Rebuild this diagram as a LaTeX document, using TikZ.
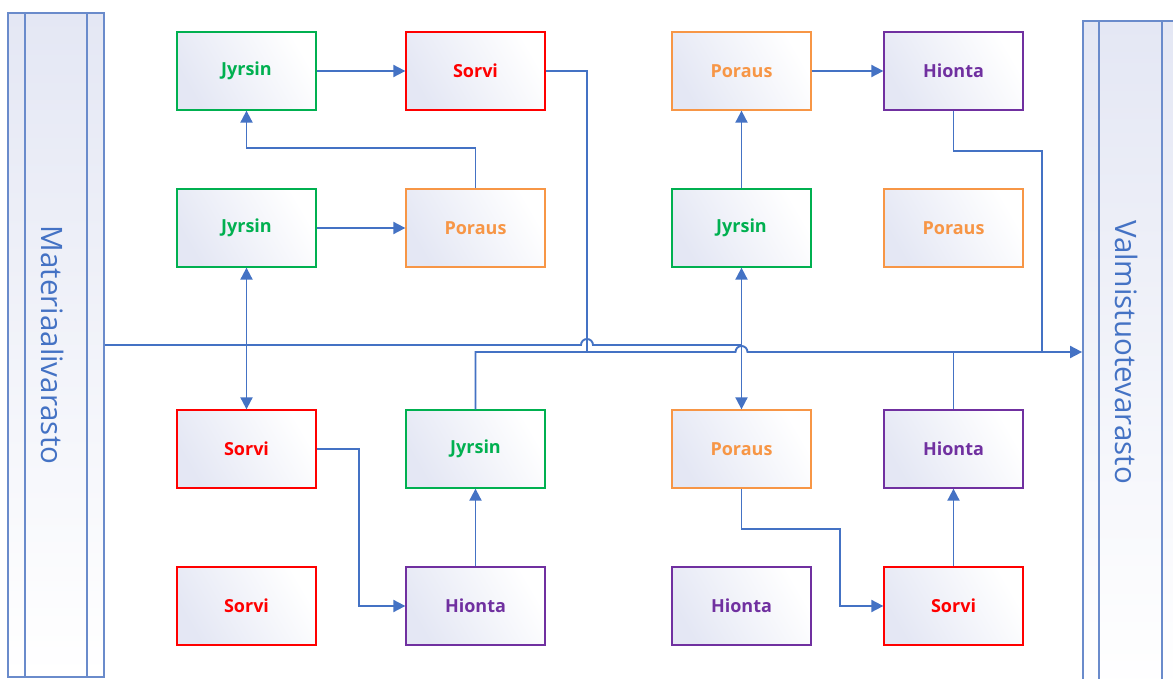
\documentclass[tikz,border=0pt]{standalone}
\usepackage{fontspec}
\setmainfont{Open Sans}
\usetikzlibrary{arrows.meta,calc}
\definecolor{cgreen}{HTML}{00B050}
\definecolor{cred}{HTML}{FF0000}
\definecolor{corange}{HTML}{F79646}
\definecolor{cpurple}{HTML}{7030A0}
\definecolor{cline}{HTML}{4472C4}
\definecolor{cbar}{HTML}{6A8BCB}
\definecolor{cfill}{HTML}{E4E7F4}
\begin{document}
\begin{tikzpicture}[x=1pt,y=-1pt,
 box/.style={draw=#1, line width=1.3pt, minimum width=139pt, minimum height=78pt, inner sep=0pt,
   text=#1, font=\fontsize{18}{21}\selectfont\bfseries, left color=cfill, right color=white, shading angle=120},
 conn/.style={draw=cline, line width=1.9pt},
 arr/.style={conn, -{Triangle[length=12pt,width=12pt]}},
 darr/.style={conn, {Triangle[length=12pt,width=12pt]}-{Triangle[length=12pt,width=12pt]}},
 bar/.style={draw=cbar, line width=1.8pt, top color=cfill, bottom color=white, minimum width=96pt, inner sep=0pt},
 barline/.style={draw=cbar, line width=1.8pt},
 bartext/.style={text=cline, font=\fontsize{29.5}{33}\selectfont, rotate=-90, inner sep=0pt}]
\useasboundingbox (0,0) rectangle (1173,679);
\clip (0,0) rectangle (1173,679);
\fill[white] (0,0) rectangle (1173,679);
% bars
\node[bar, minimum height=664pt] (mat) at (56,345) {};
\draw[barline] ([xshift=18pt]mat.north west) -- ([xshift=18pt]mat.south west);
\draw[barline] ([xshift=-18pt]mat.north east) -- ([xshift=-18pt]mat.south east);
\node[bartext] (mattext) at (53,345) {Materiaalivarasto};
\node[bar, minimum height=670pt] (val) at (1131,356) {};
\draw[barline] ([xshift=17pt]val.north west) -- ([xshift=17pt]val.south west);
\draw[barline] ([xshift=-18pt]val.north east) -- ([xshift=-18pt]val.south east);
\node[bartext] (valtext) at (1127,352) {Valmistuotevarasto};
% boxes
\node[box=cgreen]  (a1) at (246.5,71)  {Jyrsin};
\node[box=cred]    (b1) at (475.5,71)  {Sorvi};
\node[box=corange] (c1) at (741.5,71)  {Poraus};
\node[box=cpurple] (d1) at (953.5,71)  {Hionta};
\node[box=cgreen]  (a2) at (246.5,228) {Jyrsin};
\node[box=corange] (b2) at (475.5,228) {Poraus};
\node[box=cgreen]  (c2) at (741.5,228) {Jyrsin};
\node[box=corange] (d2) at (953.5,228) {Poraus};
\node[box=cred]    (a3) at (246.5,449) {Sorvi};
\node[box=cgreen]  (b3) at (475.5,449) {Jyrsin};
\node[box=corange] (c3) at (741.5,449) {Poraus};
\node[box=cpurple] (d3) at (953.5,449) {Hionta};
\node[box=cred]    (a4) at (246.5,606) {Sorvi};
\node[box=cpurple] (b4) at (475.5,606) {Hionta};
\node[box=cpurple] (c4) at (741.5,606) {Hionta};
\node[box=cred]    (d4) at (953.5,606) {Sorvi};
% coordinates on the two main lines
\coordinate (vin) at (val.west |- 0,352);
\coordinate (J1) at (587,345);
\coordinate (T1) at (587,352);
\coordinate (J2) at (c2.south |- 0,352);
\coordinate (M2) at (c2.south |- 0,345);
\coordinate (T3) at (1042,352);
% material line
\draw[conn] (mat.east |- 0,345) -- ($(J1)+(-6,0)$) arc[start angle=180,end angle=360,radius=6] -- (M2);
% product line
\draw[arr] (b3.north) |- ($(J2)+(-6,0)$) arc[start angle=180,end angle=360,radius=6] -- (vin);
% connectors
\draw[arr] (a1) -- (b1);
\draw[conn] (b1.east) -| (T1);
\draw[arr] (b2.north) -- ++(0,-40) -| (a1.south);
\draw[arr] (a2) -- (b2);
\draw[darr] (a2) -- (a3);
\draw[arr] (a3.east) -- ++(42,0) |- (b4.west);
\draw[arr] (b4) -- (b3);
\draw[arr] (c1) -- (d1);
\draw[arr] (c2) -- (c1);
\draw[darr] (c2) -- (c3);
\draw[arr] (c3.south) -- ++(0,40) -| ($(d4.west)+(-43,0)$) -- (d4.west);
\draw[arr] (d4) -- (d3);
\draw[conn] (d3.north) -- (d3.north |- 0,352);
\draw[conn] (d1.south) -- ++(0,40) -| (T3);
\end{tikzpicture}
\end{document}
